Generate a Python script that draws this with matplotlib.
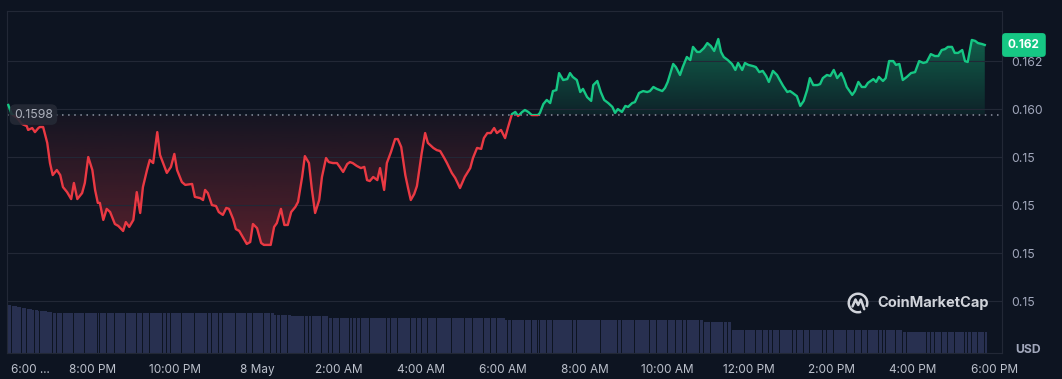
import numpy as np
import matplotlib
matplotlib.use("Agg")
import matplotlib.pyplot as plt
from matplotlib.patches import Arc, Rectangle
from matplotlib.colors import to_rgb

# --- data (minutes after 6:00 PM, price in USD) ---
minutes = [
    -4, 1, 9, 16, 23, 25, 31, 35, 40, 42, 47, 53, 57, 61, 67, 72, 76, 82, 88, 92,
    97, 104, 108, 113, 119, 123, 127, 130, 135, 140, 145, 152, 157, 164, 168, 173, 179, 184, 189, 193,
    199, 203, 208, 214, 218, 222, 228, 234, 239, 243, 250, 255, 265, 269, 277, 281, 284, 288, 294, 300,
    304, 310, 315, 319, 325, 329, 334, 340, 345, 350, 354, 360, 366, 370, 380, 385, 389, 395, 400, 405,
    410, 416, 420, 426, 430, 436, 440, 445, 451, 455, 461, 465, 471, 477, 481, 486, 492, 496, 500, 506,
    512, 517, 521, 525, 530, 536, 540, 546, 550, 556, 562, 566, 571, 577, 581, 585, 590, 594, 601, 606,
    610, 618, 623, 628, 634, 638, 645, 650, 657, 664, 672, 676, 682, 688, 692, 697, 702, 707, 711, 717,
    723, 727, 733, 738, 742, 748, 752, 757, 762, 771, 774, 779, 784, 789, 793, 798, 802, 808, 814, 818,
    822, 828, 833, 837, 843, 849, 852, 858, 863, 868, 874, 880, 884, 888, 894, 899, 903, 909, 913, 919,
    925, 931, 935, 940, 945, 953, 957, 961, 969, 973, 979, 983, 989, 994, 998, 1004, 1008, 1014, 1019, 1024,
    1029, 1035, 1039, 1043, 1049, 1055, 1060, 1064, 1070, 1074, 1079, 1086, 1090, 1095, 1100, 1105, 1109, 1115, 1121, 1125,
    1130, 1136, 1140, 1144, 1150, 1155, 1160, 1165, 1169, 1174, 1180, 1184, 1188, 1194, 1199, 1204, 1209, 1215, 1219, 1223,
    1231, 1235, 1240, 1245, 1250, 1254, 1262, 1266, 1270, 1276, 1280, 1285, 1291, 1295, 1300, 1305, 1311, 1317, 1323, 1329,
    1335, 1340, 1346, 1352, 1357, 1362, 1367, 1371, 1377, 1381, 1386, 1392, 1396, 1400, 1406, 1411, 1415, 1421, 1425,
]

prices = [
    0.16018, 0.15980, 0.15964, 0.15939, 0.15930, 0.15914, 0.15922, 0.15905, 0.15922, 0.15926,
    0.15926, 0.15860, 0.15776, 0.15726, 0.15747, 0.15726, 0.15676, 0.15655, 0.15626, 0.15693,
    0.15626, 0.15651, 0.15693, 0.15801, 0.15747, 0.15664, 0.15610, 0.15610, 0.15539, 0.15585,
    0.15572, 0.15522, 0.15514, 0.15493, 0.15530, 0.15510, 0.15539, 0.15655, 0.15568, 0.15676,
    0.15747, 0.15789, 0.15776, 0.15905, 0.15810, 0.15780, 0.15735, 0.15760, 0.15814, 0.15747,
    0.15697, 0.15685, 0.15689, 0.15635, 0.15630, 0.15622, 0.15664, 0.15651, 0.15601, 0.15597,
    0.15572, 0.15560, 0.15589, 0.15585, 0.15543, 0.15501, 0.15493, 0.15464, 0.15439, 0.15447,
    0.15522, 0.15505, 0.15443, 0.15435, 0.15435, 0.15510, 0.15526, 0.15585, 0.15518, 0.15518,
    0.15572, 0.15593, 0.15614, 0.15718, 0.15805, 0.15776, 0.15672, 0.15568, 0.15622, 0.15718,
    0.15797, 0.15780, 0.15776, 0.15776, 0.15760, 0.15739, 0.15772, 0.15780, 0.15776, 0.15764,
    0.15755, 0.15760, 0.15705, 0.15701, 0.15718, 0.15705, 0.15755, 0.15664, 0.15776, 0.15822,
    0.15876, 0.15876, 0.15843, 0.15726, 0.15672, 0.15622, 0.15647, 0.15680, 0.15818, 0.15901,
    0.15860, 0.15839, 0.15830, 0.15826, 0.15797, 0.15776, 0.15735, 0.15714, 0.15672, 0.15718,
    0.15755, 0.15797, 0.15839, 0.15835, 0.15880, 0.15901, 0.15901, 0.15922, 0.15901, 0.15914,
    0.15880, 0.15922, 0.15980, 0.15989, 0.15972, 0.15989, 0.15997, 0.15989, 0.15976, 0.15976,
    0.15985, 0.16022, 0.16039, 0.16026, 0.16076, 0.16080, 0.16151, 0.16122, 0.16126, 0.16151,
    0.16135, 0.16122, 0.16072, 0.16085, 0.16051, 0.16035, 0.16101, 0.16118, 0.16072, 0.16039,
    0.16026, 0.16010, 0.15985, 0.16001, 0.15989, 0.16014, 0.16010, 0.16026, 0.16030, 0.16068,
    0.16076, 0.16072, 0.16076, 0.16093, 0.16085, 0.16076, 0.16089, 0.16114, 0.16189, 0.16176,
    0.16143, 0.16176, 0.16218, 0.16205, 0.16260, 0.16239, 0.16239, 0.16255, 0.16276, 0.16264,
    0.16243, 0.16293, 0.16239, 0.16218, 0.16205, 0.16189, 0.16164, 0.16193, 0.16164, 0.16193,
    0.16185, 0.16180, 0.16176, 0.16155, 0.16160, 0.16139, 0.16114, 0.16160, 0.16143, 0.16122,
    0.16097, 0.16072, 0.16076, 0.16068, 0.16055, 0.16014, 0.16035, 0.16080, 0.16130, 0.16101,
    0.16101, 0.16105, 0.16130, 0.16143, 0.16139, 0.16164, 0.16130, 0.16151, 0.16126, 0.16093,
    0.16060, 0.16076, 0.16114, 0.16093, 0.16093, 0.16110, 0.16126, 0.16114, 0.16135, 0.16118,
    0.16130, 0.16201, 0.16201, 0.16185, 0.16189, 0.16122, 0.16135, 0.16151, 0.16155, 0.16201,
    0.16193, 0.16197, 0.16230, 0.16222, 0.16222, 0.16247, 0.16251, 0.16260, 0.16260, 0.16235,
    0.16235, 0.16247, 0.16201, 0.16197, 0.16289, 0.16285, 0.16276, 0.16272, 0.16268,
]

# volume (millions USD, rough reading of bar heights)
volumes = [
    9.6, 9.4, 9.2, 9.0, 8.8, 8.8, 8.6, 8.6, 8.4, 8.4, 8.4, 8.2, 8.2, 8.0, 8.0, 8.0, 8.0, 8.0, 8.0, 8.0,
    8.0, 8.0, 8.0, 8.0, 8.0, 8.0, 8.0, 8.0, 8.0, 8.0, 8.0, 8.0, 8.0, 8.0, 8.0, 8.0, 8.0, 8.0, 8.0, 8.0,
    8.0, 8.0, 8.0, 8.0, 8.0, 8.0, 8.0, 8.0, 8.0, 8.0, 8.0, 8.0, 8.0, 8.0, 8.0, 8.0, 8.0, 8.0, 8.0, 8.0,
    8.0, 8.0, 8.0, 8.0, 8.0, 8.0, 8.0, 8.0, 8.0, 8.0, 8.0, 8.0, 8.0, 8.0, 8.0, 7.7, 7.7, 7.7, 7.7, 7.7,
    7.4, 7.4, 7.4, 7.4, 7.4, 7.4, 7.4, 7.4, 7.4, 7.4, 7.4, 7.0, 7.0, 7.0, 7.0, 7.0, 7.0, 7.0, 7.0, 7.0,
    7.0, 7.0, 7.0, 7.0, 7.0, 7.0, 7.0, 7.0, 7.0, 7.0, 7.0, 7.0, 7.0, 7.0, 7.0, 7.0, 7.0, 7.0, 7.0, 7.0,
    7.0, 7.0, 7.0, 7.0, 7.0, 7.0, 7.0, 7.0, 7.0, 7.0, 7.0, 7.0, 7.0, 7.0, 7.0, 7.0, 7.0, 7.0, 7.0, 7.0,
    6.7, 6.7, 6.7, 6.7, 6.7, 6.7, 6.7, 6.7, 6.7, 6.7, 6.7, 6.7, 6.7, 6.7, 6.7, 6.7, 6.7, 6.7, 6.7, 6.7,
    6.7, 6.7, 6.7, 6.7, 6.7, 6.7, 6.7, 6.7, 6.7, 6.7, 6.7, 6.7, 6.7, 6.7, 6.7, 6.7, 6.7, 6.7, 6.7, 6.7,
    6.7, 6.7, 6.7, 6.7, 6.7, 6.7, 6.7, 6.7, 6.7, 6.7, 6.7, 6.7, 6.7, 6.7, 6.7, 6.7, 6.7, 6.2, 6.2, 6.2,
    6.2, 6.2, 6.2, 6.2, 6.2, 4.6, 4.6, 4.6, 4.6, 4.6, 4.6, 4.6, 4.6, 4.6, 4.6, 4.6, 4.6, 4.6, 4.6, 4.6,
    4.6, 4.6, 4.6, 4.6, 4.6, 4.6, 4.6, 4.6, 4.6, 4.6, 4.6, 4.6, 4.6, 4.6, 4.6, 4.6, 4.6, 4.6, 4.6, 4.6,
    4.6, 4.6, 4.6, 4.6, 4.6, 4.6, 4.6, 4.6, 4.6, 4.6, 4.6, 4.6, 4.6, 4.6, 4.6, 4.3, 4.3, 4.3, 4.3, 4.3,
    4.3, 4.3, 4.3, 4.3, 4.3, 4.3, 4.3, 4.3, 4.3, 4.3, 4.3, 4.3, 4.3, 4.3, 4.3, 4.3, 4.3, 4.3, 4.3,
]

baseline = 0.15978  # opening price shown as dotted line

xtick_vals = [0, 120, 240, 360, 480, 600, 720, 840, 960, 1080, 1200, 1320, 1440]
xtick_labels = ["6:00 ...", "8:00 PM", "10:00 PM", "8 May", "2:00 AM", "4:00 AM", "6:00 AM",
                "8:00 AM", "10:00 AM", "12:00 PM", "2:00 PM", "4:00 PM", "6:00 PM"]
ytick_vals = [0.152, 0.154, 0.156, 0.158, 0.160, 0.162]
ytick_labels = ["0.15", "0.15", "0.15", "0.15", "0.160", "0.162"]

# --- styling ---
bg = "#0d1421"
grid_col = "#222836"
red = "#ea3943"
green = "#16c784"
label_col = "#a1a7bb"

plt.rcParams["font.family"] = ["Inter", "DejaVu Sans"]

x_lo, x_hi = -5.9, 1450.2
y_lo, y_hi = 0.149846, 0.164096

fig = plt.figure(figsize=(10.62, 3.79), dpi=100, facecolor=bg)
rect = [7 / 1062, 26 / 379, 995 / 1062, 342 / 379]

# volume bars behind the price
ax_vol = fig.add_axes(rect)
ax_vol.set_facecolor(bg)
t = np.array(minutes, dtype=float)
widths = np.diff(t, append=t[-1] + 4) - 0.7
ax_vol.bar(t, volumes, width=widths, align="edge", color="#283050", linewidth=0)
ax_vol.set_xlim(x_lo, x_hi)
ax_vol.set_ylim(0, 68.4)
ax_vol.axis("off")

ax = fig.add_axes(rect)
ax.patch.set_visible(False)

p = np.array(prices)

# gradient fills clipped to the area between price and baseline
poly = ax.fill_between(t, p, baseline, facecolor="none", edgecolor="none")
clip = poly.get_paths()[0]

red_img = np.zeros((100, 1, 4))
red_img[..., :3] = to_rgb(red)
red_img[:, 0, 3] = np.linspace(0.32, 0.04, 100)
im_r = ax.imshow(red_img, extent=[t[0], t[-1], p.min(), baseline], origin="lower",
                 aspect="auto", zorder=1)
im_r.set_clip_path(clip, transform=ax.transData)

green_img = np.zeros((100, 1, 4))
green_img[..., :3] = to_rgb(green)
green_img[:, 0, 3] = np.linspace(0.08, 0.42, 100)
im_g = ax.imshow(green_img, extent=[t[0], t[-1], baseline, p.max()], origin="lower",
                 aspect="auto", zorder=1)
im_g.set_clip_path(clip, transform=ax.transData)

# price line: green above the baseline, red below
line_g, = ax.plot(t, p, color=green, lw=1.7, zorder=3, solid_joinstyle="round")
line_g.set_clip_path(Rectangle((x_lo, baseline), x_hi - x_lo, y_hi - baseline,
                               transform=ax.transData))
line_r, = ax.plot(t, p, color=red, lw=1.7, zorder=3, solid_joinstyle="round")
line_r.set_clip_path(Rectangle((x_lo, y_lo), x_hi - x_lo, baseline - y_lo,
                               transform=ax.transData))

ax.axhline(baseline, color="#8d93a3", lw=1.1, ls=(0, (1, 3)), zorder=2)
ax.text(0.007, baseline, f"{baseline:.4f}", transform=ax.get_yaxis_transform(),
        ha="left", va="center", fontsize=8.8, color="#aeb2bd", zorder=5,
        bbox=dict(boxstyle="round,pad=0.35,rounding_size=0.5", fc="#252a36", ec="none", alpha=0.9))

# last price tag
last_label = f"{np.floor(p[-1] * 1000) / 1000:.3f}"
ax.annotate(last_label, xy=(1, p[-1]), xycoords=ax.get_yaxis_transform(),
            xytext=(6, 0), textcoords="offset pixels", ha="left", va="center",
            fontsize=8.5, fontweight="bold", color="white", zorder=6, annotation_clip=False,
            bbox=dict(boxstyle="round,pad=0.5,rounding_size=0.3", fc=green, ec="none"))

ax.set_xlim(x_lo, x_hi)
ax.set_ylim(y_lo, y_hi)

ax.yaxis.tick_right()
ax.set_yticks(ytick_vals)
ax.set_yticklabels(ytick_labels)
ax.tick_params(axis="y", length=0, pad=7, labelcolor=label_col, labelsize=8.8)
ax.set_xticks(xtick_vals)
ax.set_xticklabels(xtick_labels)
ax.tick_params(axis="x", length=0, pad=8, labelcolor="#bcc1cc", labelsize=8.5)
ax.get_xticklabels()[0].set_horizontalalignment("left")

ax.grid(axis="y", color=grid_col, lw=0.8)
for s in ax.spines.values():
    s.set_color(grid_col)
    s.set_linewidth(0.8)

fig.text(1028 / 1062, 1 - 350 / 379, "USD", ha="center", va="center",
         color=label_col, fontsize=8.8, fontweight="bold")

# watermark
fig.text(877 / 1062, 1 - 303 / 379, "CoinMarketCap", ha="left", va="center",
         fontsize=10.5, fontweight="bold", color="#d0d3da")
lax = fig.add_axes([847 / 1062, 1 - 314 / 379, 22 / 1062, 22 / 379])
lax.set_xlim(-1.1, 1.1)
lax.set_ylim(-1.1, 1.1)
lax.axis("off")
lax.add_patch(Arc((0, 0), 1.85, 1.85, theta1=-25, theta2=290, lw=1.8, color="#d0d3da"))
lax.plot([-0.55, -0.25, 0.02, 0.28, 0.5, 0.62], [-0.35, 0.35, -0.2, 0.35, -0.25, -0.62],
         color="#d0d3da", lw=1.8, solid_joinstyle="round", solid_capstyle="round")

fig.savefig("out.png", dpi=100, facecolor=bg)
